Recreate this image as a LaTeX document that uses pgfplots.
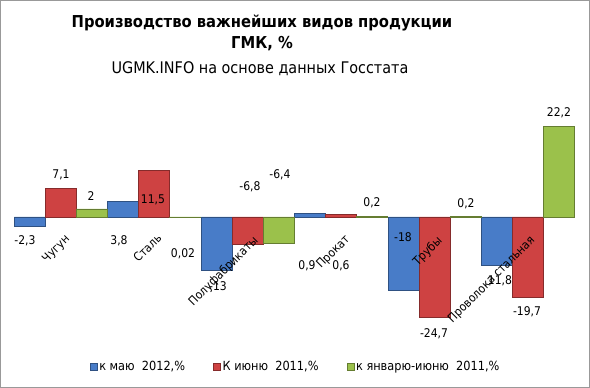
\documentclass[border=0pt]{standalone}
\usepackage{pgfplots}
\pgfplotsset{compat=1.18}
\usepackage{fontspec}
\setmainfont{DejaVu Sans Condensed}
\definecolor{cblue}{RGB}{72,124,200}
\definecolor{cred}{RGB}{206,66,66}
\definecolor{cgreen}{RGB}{155,193,75}
\begin{document}
\begin{tikzpicture}[x=1pt,y=1pt]
\useasboundingbox (0,0) rectangle (590,388);
\draw[gray!80, line width=1pt] (0.5,0.5) rectangle (589.5,387.5);
\node[font=\bfseries\fontsize{16.4}{18}\selectfont] at (262,365) {Производство важнейших видов продукции};
\node[font=\bfseries\fontsize{16.4}{18}\selectfont] at (262,344) {ГМК, \%};
\node[font=\fontsize{16}{18}\selectfont] at (260,319) {UGMK.INFO на основе данных Госстата};
\begin{axis}[at={(14pt,57pt)}, anchor=south west, scale only axis,
  width=561pt, height=228pt, xmin=-0.5, xmax=5.5, ymin=-28, ymax=28,
  axis lines=none,
  xtick=\empty, ytick=\empty, ybar=0pt, bar width=31pt, clip=false,
  legend columns=3,
  legend style={at={(0.502,-0.158)}, anchor=center, draw=none, fill=none,
    font=\fontsize{12.6}{14}\selectfont,
    /tikz/every even column/.append style={column sep=26pt}},
  legend image code/.code={\draw[#1, line width=0.5pt] (0pt,-3.5pt) rectangle (7pt,3.5pt);}]
\draw[gray!60] (axis cs:-0.5,0) -- (axis cs:5.5,0);
\addplot[fill=cblue, draw=cblue!65!black, line width=0.6pt] coordinates {(0,-2.3) (1,3.8) (2,-13) (3,0.9) (4,-18) (5,-11.8)};
\addplot[fill=cred, draw=cred!65!black, line width=0.6pt] coordinates {(0,7.1) (1,11.5) (2,-6.8) (3,0.6) (4,-24.7) (5,-19.7)};
\addplot[fill=cgreen, draw=cgreen!65!black, line width=0.6pt] coordinates {(0,2) (1,0.02) (2,-6.4) (3,0.2) (4,0.2) (5,22.2)};
\legend{к маю\ \ 2012{,}\%, К июню\ \ 2011{,}\%, к январю-июню\ \ 2011{,}\%}
\end{axis}
\begin{scope}[every node/.style={font=\fontsize{12}{14}\selectfont}]
\node at (25,147) {-2,3};
\node at (61,213) {7,1};
\node at (91,192) {2};
\node at (119,147) {3,8};
\node at (153,188) {11,5};
\node at (183,134) {0,02};
\node at (250,201) {-6,8};
\node at (280,213) {-6,4};
\node at (218,102) {-13};
\node at (307,122) {0,9};
\node at (341,122) {0,6};
\node at (372,185) {0,2};
\node at (403,151) {-18};
\node at (434,54) {-24,7};
\node at (466,184) {0,2};
\node at (500,107) {11,8};
\node at (527,76) {-19,7};
\node at (559,275) {22,2};
\end{scope}
\begin{scope}[every node/.style={font=\fontsize{12}{14}\selectfont, anchor=north east, rotate=45, inner sep=1pt}]
\node at (64,156) {Чугун};
\node at (156,157) {Сталь};
\node at (252,155) {Полуфабрикаты};
\node at (344,156) {Прокат};
\node at (436,155) {Трубы};
\node at (529,155) {Проволока стальная};
\end{scope}
\end{tikzpicture}
\end{document}
